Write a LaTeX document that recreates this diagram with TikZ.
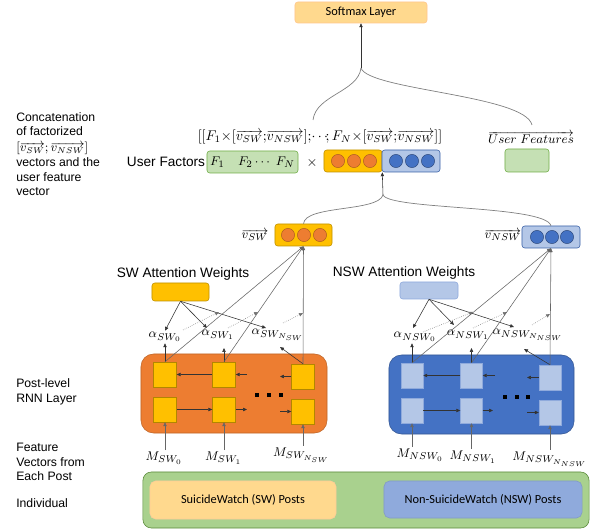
\documentclass[tikz,border=0pt]{standalone}
\usepackage{fontspec}
\setmainfont{Liberation Sans}
\newfontfamily\calfont{Carlito}
\usetikzlibrary{arrows.meta}

\definecolor{accOrange}{HTML}{ED7D31}
\definecolor{accGold}{HTML}{FFC000}
\definecolor{accBlue}{HTML}{4472C4}
\definecolor{paleBlue}{HTML}{B4C7E7}
\definecolor{midBlue}{HTML}{8FAADC}
\definecolor{paleGreen}{HTML}{C5E0B4}
\definecolor{midGreen}{HTML}{A9D18E}
\definecolor{edgeGreen}{HTML}{70AD47}
\definecolor{paleOrange}{HTML}{FFD98E}

\tikzset{
  sidelabel/.style={anchor=west, align=left, inner sep=0pt, font=\fontsize{8.7}{10.4}\selectfont},
  headlabel/.style={inner sep=0pt, font=\fontsize{9.7}{11.6}\selectfont},
  mathlabel/.style={inner sep=1pt, font=\fontsize{9.5}{11}\selectfont},
  textbox/.style={rounded corners=2pt, inner sep=0pt, line width=0.4pt, font=\calfont\fontsize{8.8}{10.5}\selectfont},
  goldbox/.style={textbox, draw=accGold!75!black, fill=accGold},
  bluebox/.style={textbox, draw=accBlue!85!black, fill=paleBlue},
  greenbox/.style={textbox, draw=edgeGreen, fill=paleGreen},
  cellSW/.style={draw=accGold!70!black, fill=accGold, line width=0.3pt, minimum width=0.575cm, minimum height=0.625cm, inner sep=0pt},
  cellNSW/.style={draw=midBlue, fill=paleBlue, line width=0.3pt, minimum width=0.55cm, minimum height=0.625cm, inner sep=0pt},
  dotSW/.style={circle, draw=accOrange!70!black, fill=accOrange, line width=0.3pt, minimum size=0.33cm, inner sep=0pt},
  dotNSW/.style={circle, draw=accBlue!60!black, fill=accBlue, line width=0.3pt, minimum size=0.33cm, inner sep=0pt},
  sq/.style={fill=black, minimum size=0.1cm, inner sep=0pt},
  arr/.style={-{Triangle[length=2.8pt,width=2.4pt]}, line width=0.4pt, draw=black!80},
  feed/.style={arr, draw=black!60},
  weigh/.style={arr, densely dotted, draw=black!55},
  brace/.style={line width=0.5pt, draw=black!50},
}

\begin{document}
\begin{tikzpicture}[x=0.025cm, y=-0.025cm]
  \useasboundingbox (0,0) rectangle (599,530);

  %%%%% LEFT LABELS %%%%%
  \node[sidelabel] (lconcat) at (16,154) {Concatenation\\of factorized\\[1pt]$[\overrightarrow{v_{SW}};\overrightarrow{v_{NSW}}]$\\vectors and the\\user feature\\vector};
  \node[sidelabel] (lrnn) at (16,392) {Post-level\\RNN Layer};
  \node[sidelabel] (lfeat) at (16,462) {Feature\\Vectors from\\Each Post};
  \node[sidelabel] (lind) at (16,503) {Individual};

  %%%%% SOFTMAX AND CONCATENATION %%%%%
  \node[textbox, draw=orange!45, fill=paleOrange, minimum width=3.3cm, minimum height=0.525cm] (softmax) at (361,12.5) {Softmax Layer};
  \coordinate (j1) at (361,68);
  \coordinate (b1l) at (313,120);
  \coordinate (b1r) at (532,125);
  \draw[brace] (b1l) .. controls (316,95) and (358,92) .. (j1);
  \draw[brace] (j1) .. controls (368,90) and (525,95) .. (b1r);
  \draw[arr] (j1) -- (softmax.south);

  \node[mathlabel, font=\fontsize{10}{12}\selectfont] (concat) at (320,137) {$[[F_1{\times}[\overrightarrow{v_{SW}};\!\overrightarrow{v_{NSW}}];\!{\cdots}\!;F_N{\times}[\overrightarrow{v_{SW}};\!\overrightarrow{v_{NSW}}]]$};
  \node[mathlabel] (uflabel) at (531,138) {$\overrightarrow{User\ Features}$};
  \node[greenbox, minimum width=1.1cm, minimum height=0.575cm] (ufbox) at (527,160.5) {};

  \node[headlabel] (userfac) at (166,162) {User Factors};
  \node[greenbox, minimum width=2.275cm, minimum height=0.55cm, font=\fontsize{9.5}{11}\selectfont] (fbox) at (252.5,162) {$F_1\quad F_2\cdots\ F_N$};
  \node[headlabel] (times) at (312,163) {$\times$};
  \node[goldbox, minimum width=1.45cm, minimum height=0.55cm] (catsw) at (353,161) {};
  \node[bluebox, minimum width=1.45cm, minimum height=0.55cm] (catnsw) at (411,161) {};
  \node[dotSW] (cso1) at (338,161) {};
  \node[dotSW] (cso2) at (354,161) {};
  \node[dotSW] (cso3) at (370,161) {};
  \node[dotNSW] (cbo1) at (396,161) {};
  \node[dotNSW] (cbo2) at (412,161) {};
  \node[dotNSW] (cbo3) at (428,161) {};

  %%%%% POST VECTORS %%%%%
  \node[goldbox, minimum width=1.425cm, minimum height=0.55cm] (vsw) at (303.5,235) {};
  \node[dotSW] (vso1) at (288,235) {};
  \node[dotSW] (vso2) at (304,235) {};
  \node[dotSW] (vso3) at (320,235) {};
  \node[mathlabel] (vswlabel) at (255,235) {$\overrightarrow{v_{SW}}$};

  \node[bluebox, minimum width=1.45cm, minimum height=0.55cm] (vnsw) at (551,237) {};
  \node[dotNSW] (vbo1) at (537,237) {};
  \node[dotNSW] (vbo2) at (552,237) {};
  \node[dotNSW] (vbo3) at (567,237) {};
  \node[mathlabel] (vnswlabel) at (503,235) {$\overrightarrow{v_{NSW}}$};

  \coordinate (j2) at (383,195);
  \draw[brace] (vsw.north) .. controls (305,205) and (378,212) .. (j2);
  \draw[brace] (j2) .. controls (390,210) and (545,205) .. (vnsw.north);
  \draw[arr] (j2) -- (catsw.south east);

  %%%%% ATTENTION %%%%%
  \node[headlabel] (attswlabel) at (183,274) {SW Attention Weights};
  \node[goldbox, minimum width=1.425cm, minimum height=0.45cm] (attsw) at (180.5,292) {};
  \node[mathlabel] (aS0) at (165,337) {$\alpha_{SW_0}$};
  \node[mathlabel] (aS1) at (218,335) {$\alpha_{SW_1}$};
  \node[mathlabel] (aSN) at (278,335) {$\alpha_{SW_{N_{SW}}}$};
  \draw[arr] (attsw.south) -- (aS0.north);
  \draw[arr] (attsw.south) -- (207,328);
  \draw[arr] (attsw.south) -- (266,328);

  \node[headlabel] (attnswlabel) at (404,273) {NSW Attention Weights};
  \node[bluebox, draw=midBlue, minimum width=1.45cm, minimum height=0.425cm] (attnsw) at (429,290.5) {};
  \node[mathlabel] (aN0) at (415,337) {$\alpha_{NSW_0}$};
  \node[mathlabel] (aN1) at (468,335) {$\alpha_{NSW_1}$};
  \node[mathlabel] (aNN) at (528,335) {$\alpha_{NSW_{N_{NSW}}}$};
  \draw[arr] (attnsw.south) -- (413,328);
  \draw[arr] (attnsw.south) -- (454,325);
  \draw[arr] (attnsw.south) -- (514,327);

  % weighted sums
  \coordinate (wS0a) at (183,330); \coordinate (wS0b) at (219,312);
  \coordinate (wS1a) at (228,328); \coordinate (wS1b) at (258,312);
  \coordinate (wSNa) at (283,323); \coordinate (wSNb) at (303,313);
  \draw[weigh] (wS0a) -- (wS0b);
  \draw[weigh] (wS1a) -- (wS1b);
  \draw[weigh] (wSNa) -- (wSNb);
  \coordinate (wN0a) at (423,332); \coordinate (wN0b) at (473,312);
  \coordinate (wN1a) at (473,328); \coordinate (wN1b) at (507,312);
  \coordinate (wNNa) at (532,325); \coordinate (wNNb) at (550,314);
  \draw[weigh] (wN0a) -- (wN0b);
  \draw[weigh] (wN1a) -- (wN1b);
  \draw[weigh] (wNNa) -- (wNNb);

  %%%%% RNN LAYERS %%%%%
  \node[draw=accOrange!80!black, fill=accOrange, rounded corners=9pt, line width=0.4pt, minimum width=4.65cm, minimum height=1.975cm] (rnnsw) at (234,393.5) {};
  \node[cellSW] (cS0t) at (165,374.5) {};
  \node[cellSW] (cS1t) at (224,374.5) {};
  \node[cellSW] (cSNt) at (303,376.5) {};
  \node[cellSW] (cS0b) at (165,409.5) {};
  \node[cellSW] (cS1b) at (224,409.5) {};
  \node[cellSW] (cSNb) at (303,411.5) {};
  \node[sq] (dS1) at (257,395) {};
  \node[sq] (dS2) at (269,395) {};
  \node[sq] (dS3) at (281,395) {};
  \coordinate (rS1) at (247,374.5); \coordinate (rSN) at (280,376.5);
  \coordinate (lS1) at (247,409.5); \coordinate (lSN) at (280,411.5);
  \draw[arr] (cS1t.west) -- (cS0t.east);
  \draw[arr] (rS1) -- (cS1t.east);
  \draw[arr] (cSNt.west) -- (rSN);
  \draw[arr] (cS0b.east) -- (cS1b.west);
  \draw[arr] (cS1b.east) -- (lS1);
  \draw[arr] (lSN) -- (cSNb.west);

  \node[draw=accBlue!75!black, fill=accBlue, rounded corners=9pt, line width=0.4pt, minimum width=4.625cm, minimum height=1.975cm] (rnnnsw) at (481.5,394.5) {};
  \node[cellNSW] (cN0t) at (412,375.5) {};
  \node[cellNSW] (cN1t) at (471.5,375.5) {};
  \node[cellNSW] (cNNt) at (550,377.5) {};
  \node[cellNSW] (cN0b) at (412,410.5) {};
  \node[cellNSW] (cN1b) at (471.5,410.5) {};
  \node[cellNSW] (cNNb) at (550,412.5) {};
  \node[sq] (dN1) at (505,397) {};
  \node[sq] (dN2) at (517,397) {};
  \node[sq] (dN3) at (528,397) {};
  \coordinate (rN1) at (495,375.5); \coordinate (rNN) at (527,377.5);
  \coordinate (lN1) at (493,410.5); \coordinate (lNN) at (527,412.5);
  \draw[arr] (cN1t.west) -- (cN0t.east);
  \draw[arr] (rN1) -- (cN1t.east);
  \draw[arr] (cNNt.west) -- (rNN);
  \draw[arr] (cN0b.east) -- (cN1b.west);
  \draw[arr] (cN1b.east) -- (lN1);
  \draw[arr] (lNN) -- (cNNb.west);

  % cells to attention weights and vectors
  \draw[arr] (cS0t.north) -- (cS0t.north |- aS0.south);
  \draw[arr] (cS1t.north) -- (224,348);
  \draw[arr] (cSNt.north) -- (280,347);
  \draw[feed] (cS0t.north) -- (vsw.south);
  \draw[feed] (cS1t.north) -- (vsw.south);
  \draw[feed] (cSNt.north) -- (vsw.south);

  \draw[arr] (cN0t.north) -- (cN0t.north |- aN0.south);
  \draw[arr] (cN1t.north) -- (471.5,348);
  \draw[arr] (cNNt.north) -- (524,349);
  \draw[feed] (cN0t.north) -- (vnsw.south);
  \draw[feed] (cN1t.north) -- (vnsw.south);
  \draw[feed] (cNNt.north) -- (vnsw.south);

  %%%%% FEATURE VECTORS %%%%%
  \node[mathlabel] (mS0) at (164,458) {$M_{SW_0}$};
  \node[mathlabel] (mS1) at (223.5,458) {$M_{SW_1}$};
  \node[mathlabel] (mSN) at (301.5,455) {$M_{SW_{N_{SW}}}$};
  \draw[feed] (cS0b.south |- mS0.north) -- (cS0b.south);
  \draw[feed] (cS1b.south |- mS1.north) -- (cS1b.south);
  \draw[feed] (cSNb.south |- mSN.north) -- (cSNb.south);

  \node[mathlabel] (mN0) at (420,455) {$M_{NSW_0}$};
  \node[mathlabel] (mN1) at (473,457) {$M_{NSW_1}$};
  \node[mathlabel] (mNN) at (550,459) {$M_{NSW_{N_{NSW}}}$};
  \draw[feed] (cN0b.south |- mN0.north) -- (cN0b.south);
  \draw[feed] (cN1b.south |- mN1.north) -- (cN1b.south);
  \draw[feed] (cNNb.south |- mNN.north) -- (cNNb.south);

  %%%%% INDIVIDUAL %%%%%
  \node[draw=edgeGreen!80!black, fill=midGreen, rounded corners=6pt, line width=0.4pt, minimum width=11.15cm, minimum height=1.4cm] (indiv) at (366,500) {};
  \node[textbox, draw=orange!40, fill=paleOrange, rounded corners=4pt, minimum width=4.65cm, minimum height=0.95cm] (swposts) at (243,500) {SuicideWatch (SW) Posts};
  \node[textbox, draw=midBlue!90!black, fill=midBlue, rounded corners=4pt, minimum width=4.95cm, minimum height=0.925cm] (nswposts) at (483,499.5) {Non-SuicideWatch (NSW) Posts};
\end{tikzpicture}
\end{document}
